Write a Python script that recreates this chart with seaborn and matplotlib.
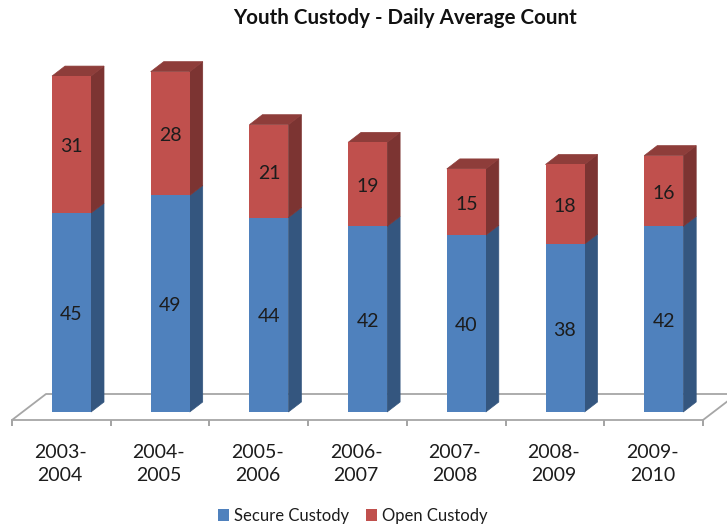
#Import helpful toolboxes etc
import matplotlib
matplotlib.use('Agg')
import matplotlib.pyplot as plt
import seaborn as sns
import numpy as np

#chart values
years = ['2003-\n2004','2004-\n2005','2005-\n2006','2006-\n2007','2007-\n2008','2008-\n2009','2009-\n2010']
secure = [45,49,44,42,40,38,42]
opened = [31,28,21,19,15,18,16]

#colours
blue = '#4F81BD'
red = '#C0504D'
blue_side = '#34567F'
red_side = '#7C3432'
red_top = '#8E3D3A'
text_col = '#1C1C1C'
grey = '#A6A6A6'

sns.set_style('white')
plt.rcParams['font.family'] = ['Lato','DejaVu Sans']

#figure in pixels
W, H = 727, 527
fig = plt.figure(figsize=(W/100, H/100), dpi=100)
left, right, bottom, top = 12, 703, 420, 40
ax = fig.add_axes([left/W, 1-bottom/H, (right-left)/W, (bottom-top)/H])

#pixel scales of the axes
px_x = 98.7
px_y = 4.42
first_bar = 71.5
base = 412

#the stacked bars
sns.barplot(x=years, y=secure, color=blue, width=39/px_x, saturation=1, linewidth=0, label='Secure Custody', ax=ax, zorder=3)
sns.barplot(x=years, y=opened, bottom=secure, color=red, width=39/px_x, saturation=1, linewidth=0, label='Open Custody', ax=ax, zorder=3)

ax.set_xlim((left-first_bar)/px_x, (right-first_bar)/px_x)
ax.set_ylim((base-bottom)/px_y, (base-top)/px_y)

#depth of the fake 3d
dx = 13/px_x
dy = 10/px_y

#side and top faces follow the bars
n = len(years)
for i, p in enumerate(ax.patches):
    x0 = p.get_x()
    x1 = x0 + p.get_width()
    y0 = p.get_y()
    y1 = y0 + p.get_height()
    side = blue_side if i < n else red_side
    ax.fill([x1, x1+dx, x1+dx, x1], [y0, y0+dy, y1+dy, y1], color=side, lw=0.5, zorder=2.9)
    if i >= n:
        ax.fill([x0, x1, x1+dx, x0+dx], [y1, y1, y1+dy, y1+dy], color=red_top, lw=0.5, zorder=2.9)

#floor of the chart
xlo, xhi = ax.get_xlim()
ylo = ax.get_ylim()[0]
fx = 34/px_x
fy = 26/px_y
ax.plot([xlo, xlo+fx, xhi+fx, xhi], [ylo, ylo+fy, ylo+fy, ylo], color=grey, lw=1.3, clip_on=False, zorder=1)

#numbers in the middle of each segment, nudged down a little
for c in ax.containers:
    for t in ax.bar_label(c, label_type='center', fontsize=14, color=text_col, zorder=5):
        t.xyann = (0, -1.5)

#axis look
sns.despine(ax=ax, left=True)
ax.spines['bottom'].set_color(grey)
ax.spines['bottom'].set_linewidth(1.3)
ax.set_yticks([])
ax.set_xticks(np.arange(n)-0.115)
ax.set_xticklabels(years, fontsize=14, color=text_col, linespacing=1.45)
ax.set_xticks(xlo+np.arange(n+1), minor=True)
ax.tick_params(axis='x', which='major', length=0, pad=17)
ax.tick_params(axis='x', which='minor', length=4.5, width=1.1, color='#8A8A8A', bottom=True)

#legend along the bottom
ax.legend(loc='center', bbox_to_anchor=(353/W, 1-516/H), bbox_transform=fig.transFigure, ncol=2,
          frameon=False, fontsize=12, handlelength=0.68, handleheight=0.68, handletextpad=0.3,
          columnspacing=1.0, labelcolor=text_col, borderpad=0)

fig.text(405/W, 1-18/H, 'Youth Custody - Daily Average Count', ha='center', va='center',
         fontsize=14.8, fontweight='bold', color='#111111')

plt.savefig('out.png', dpi=100)
